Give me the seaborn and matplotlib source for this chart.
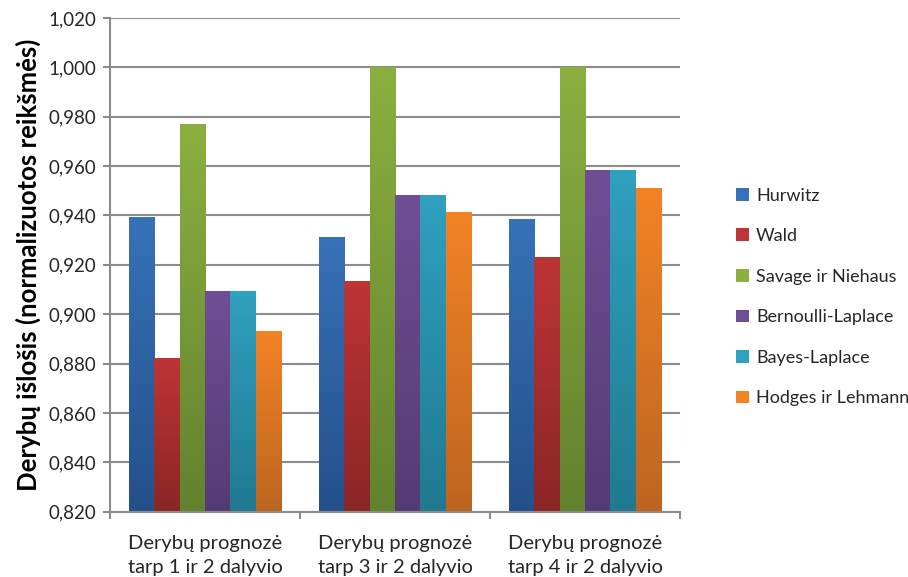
import numpy as np
import pandas as pd
import matplotlib
matplotlib.use("Agg")
import matplotlib.pyplot as plt
import seaborn as sns
from matplotlib.colors import LinearSegmentedColormap, to_rgb
from matplotlib.ticker import FuncFormatter, FixedLocator
from matplotlib.patches import Patch

# --- data ---
groups = ["Derybų prognozė\ntarp 1 ir 2 dalyvio",
          "Derybų prognozė\ntarp 3 ir 2 dalyvio",
          "Derybų prognozė\ntarp 4 ir 2 dalyvio"]
methods = ["Hurwitz", "Wald", "Savage ir Niehaus",
           "Bernoulli-Laplace", "Bayes-Laplace", "Hodges ir Lehmann"]
hurwitz = [0.9394, 0.9311, 0.9385]
wald = [0.8821, 0.9136, 0.9231]
savage = [0.9770, 1.0000, 1.0000]
bernoulli = [0.9096, 0.9481, 0.9584]
bayes = [0.9096, 0.9481, 0.9584]
hodges = [0.8931, 0.9413, 0.9510]

# top / bottom colours of the excel-ish gradient bars
top_colors = ["#3672B8", "#BE3536", "#8BB03F", "#6F4E96", "#30A1BF", "#F38325"]
bottom_colors = ["#24508A", "#8A2526", "#62822E", "#553B75", "#207990", "#BC6520"]

series = [hurwitz, wald, savage, bernoulli, bayes, hodges]
df = pd.DataFrame({
    "group": np.repeat([groups], len(methods), axis=0).ravel(),
    "method": np.repeat(methods, len(groups)),
    "value": np.concatenate(series),
})

sns.set_style("white")
plt.rcParams["font.family"] = ["Lato", "DejaVu Sans"]
text_color = "#262626"

fig = plt.figure(figsize=(9.08, 5.77), dpi=100)
ax = fig.add_axes([0.121, 0.113, 0.628, 0.856])

sns.barplot(data=df, x="group", y="value", hue="method", order=groups,
            hue_order=methods, palette=top_colors, saturation=1,
            width=0.8, linewidth=0, ax=ax, legend=False)

ax.set_ylim(0.82, 1.02)
ax.set_xlim(-0.5, 2.5)

# gradient fill on every bar, clipped to the bar seaborn drew
for i, bars in enumerate(ax.containers):
    cmap = LinearSegmentedColormap.from_list(
        f"g{i}", [to_rgb(bottom_colors[i]), to_rgb(top_colors[i])])
    for bar in bars:
        x0, y0 = bar.get_x(), bar.get_y()
        w, h = bar.get_width(), bar.get_height()
        y_lo = max(y0, 0.82)
        grad = np.linspace(0, 1, 256).reshape(-1, 1)
        im = ax.imshow(grad, cmap=cmap, aspect="auto", origin="lower",
                       extent=[x0, x0 + w, y_lo, y0 + h], zorder=bar.get_zorder())
        im.set_clip_path(bar)

ax.set_ylim(0.82, 1.02)
ax.set_xlim(-0.5, 2.5)

ticks = np.arange(0.82, 1.0201, 0.02)
ax.set_yticks(ticks)
ax.yaxis.set_major_formatter(FuncFormatter(lambda v, p: f"{v:.3f}".replace(".", ",")))
ax.yaxis.grid(True, color="#8C8C8C", linewidth=1.5)
ax.set_axisbelow(True)

for side in ["top", "right"]:
    ax.spines[side].set_visible(False)
for side in ["left", "bottom"]:
    ax.spines[side].set_color("#8C8C8C")
    ax.spines[side].set_linewidth(1.5)

ax.tick_params(axis="y", left=True, length=5, width=1.5, color="#8C8C8C",
               labelsize=13.5, labelcolor=text_color, pad=5)
ax.tick_params(axis="x", bottom=False, labelsize=14.5, labelcolor=text_color, pad=13)
for lbl in ax.get_xticklabels():
    lbl.set_linespacing(1.5)
ax.xaxis.set_minor_locator(FixedLocator([-0.5, 0.5, 1.5, 2.5]))
ax.tick_params(axis="x", which="minor", bottom=True, length=5, width=1.5, color="#8C8C8C")

ax.set_xlabel("")
ax.set_ylabel("Derybų išlošis (normalizuotos reikšmės)", fontsize=18.5,
              fontweight="bold", color="black", labelpad=5)

handles = [Patch(facecolor=c, edgecolor="none") for c in top_colors]
ax.legend(handles, methods, loc="center left", bbox_to_anchor=(1.07, 0.435),
          frameon=False, fontsize=13, handlelength=0.7, handleheight=0.7,
          handletextpad=0.4, labelspacing=1.36, labelcolor=text_color)

fig.savefig("out.png", dpi=100)
